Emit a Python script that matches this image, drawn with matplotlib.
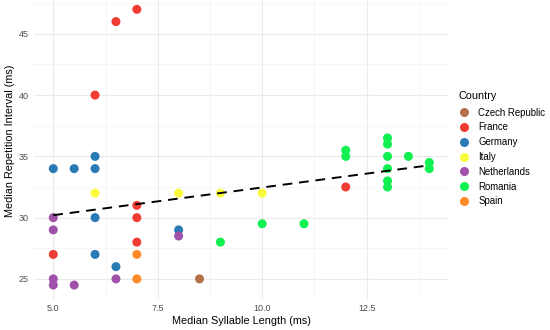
import matplotlib
matplotlib.use("Agg")
import matplotlib.pyplot as plt
from matplotlib.lines import Line2D

plt.rcParams["font.family"] = ["Liberation Sans", "DejaVu Sans"]

# median syllable length (ms) / median repetition interval (ms) per country
countries = ["Czech Republic", "France", "Germany", "Italy",
             "Netherlands", "Romania", "Spain"]
colors = ["#B5704A", "#F03C32", "#2A7AB5", "#FAFA3C",
          "#A052AA", "#10F050", "#FF8A28"]

czech_x = [8.5]
czech_y = [25]
france_x = [7, 6.5, 6, 7, 7, 7, 5, 12]
france_y = [47, 46, 40, 31, 30, 28, 27, 32.5]
germany_x = [6, 5, 5.5, 6, 6, 8, 6, 6.5]
germany_y = [35, 34, 34, 34, 30, 29, 27, 26]
italy_x = [6, 8, 9, 10]
italy_y = [32, 32, 32, 32]
netherlands_x = [5, 5, 8, 5, 6.5, 5, 5.5]
netherlands_y = [30, 29, 28.5, 25, 25, 24.5, 24.5]
romania_x = [12, 12, 13, 13, 13, 13.5, 13, 13, 13, 14, 14, 10, 11, 9]
romania_y = [35.5, 35, 36.5, 36, 35, 35, 34, 33, 32.5, 34.5, 34, 29.5, 29.5, 28]
spain_x = [7, 7]
spain_y = [27, 25]

# dashed trend line, ends
trend_x = [5, 14]
trend_y = [30.2, 34.27]

series_x = [czech_x, france_x, germany_x, italy_x, netherlands_x, romania_x, spain_x]
series_y = [czech_y, france_y, germany_y, italy_y, netherlands_y, romania_y, spain_y]

fig = plt.figure(figsize=(5.5, 3.3), dpi=100)
ax = fig.add_axes([0.0627, 0.0945, 0.752, 0.919])

for xs, ys, c in zip(series_x, series_y, colors):
    ax.scatter(xs, ys, s=42, color=c, edgecolors="none", zorder=3)

ax.plot(trend_x, trend_y, color="black", lw=1.4, dashes=(5, 3.5), zorder=4)

ax.set_xlim(4.55, 14.45)
ax.set_ylim(23.375, 48.125)
ax.set_xticks([5.0, 7.5, 10.0, 12.5])
ax.set_xticklabels(["5.0", "7.5", "10.0", "12.5"])
ax.set_xticks([6.25, 8.75, 11.25, 13.75], minor=True)
ax.set_yticks([25, 30, 35, 40, 45])
ax.set_yticks([27.5, 32.5, 37.5, 42.5, 47.5], minor=True)
ax.grid(which="major", color="#EBEBEB", lw=0.8, zorder=0)
ax.grid(which="minor", color="#F3F3F3", lw=0.5, zorder=0)
for s in ax.spines.values():
    s.set_visible(False)
ax.tick_params(which="both", length=0, labelsize=6.5, labelcolor="#4D4D4D", pad=4)

ax.set_xlabel("Median Syllable Length (ms)", fontsize=7.8, labelpad=2)
ax.set_ylabel("Median Repetition Interval (ms)", fontsize=7.8)
ax.yaxis.set_label_coords(-0.048, 0.52)

handles = [Line2D([], [], ls="none", marker="o", markersize=6.5,
                  markerfacecolor=c, markeredgecolor="none") for c in colors]
leg = fig.legend(handles, countries, title="Country", loc="upper left",
                 bbox_to_anchor=(0.826, 0.737), frameon=False,
                 fontsize=6.9, title_fontsize=7.8, labelspacing=0.5,
                 handletextpad=0.9, handlelength=1.2, borderaxespad=0)
leg._legend_box.align = "left"
leg._legend_box.sep = 5

fig.savefig("out.png", dpi=100)
